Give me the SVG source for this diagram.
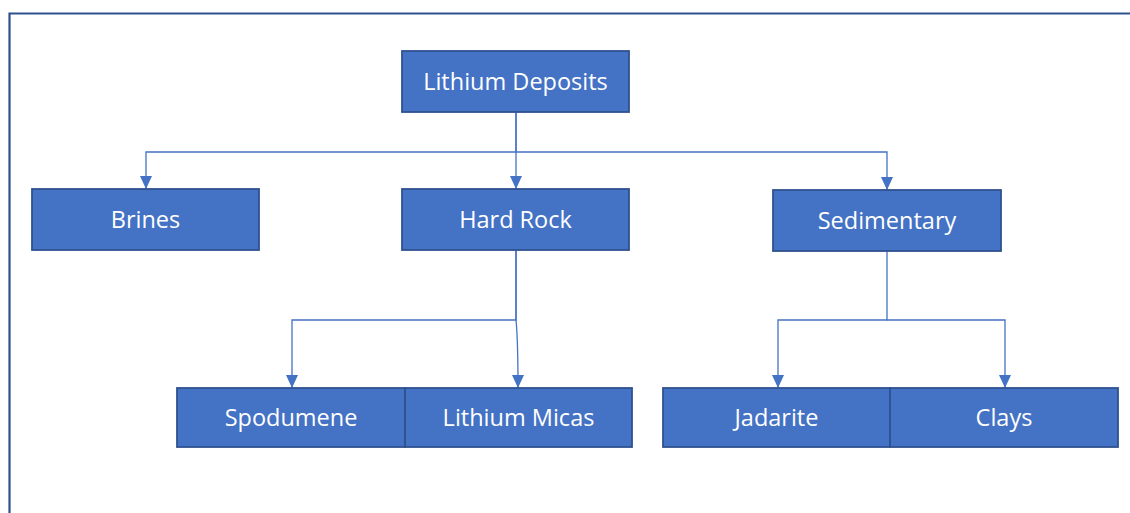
<svg xmlns="http://www.w3.org/2000/svg" width="1130" height="513" viewBox="0 0 1130 513">
<style>
.box{fill:#4472C4;stroke:#2F528F;stroke-width:1.8}
.lbl{fill:#FFFFFF;font-family:"Open Sans","Liberation Sans",sans-serif;font-size:23.5px;text-anchor:middle}
.con{fill:none;stroke:#4472C4;stroke-width:1.3}
</style>
<defs>
<marker id="arr" markerWidth="13" markerHeight="12" refX="13" refY="6" orient="auto" markerUnits="userSpaceOnUse">
<path d="M0,0 L13,6 L0,12 Z" fill="#4472C4"/>
</marker>
</defs>
<rect x="0" y="0" width="1130" height="513" fill="#FFFFFF"/>
<path d="M9.5,513 L9.5,13.5 L1130,13.5" fill="none" stroke="#2F528F" stroke-width="2.2"/>
<g id="connectors">
<path class="con" d="M516,112 L516,152 L146,152 L146,189" marker-end="url(#arr)"/>
<path class="con" d="M516,112 L516,189" marker-end="url(#arr)"/>
<path class="con" d="M516,152 L887,152 L887,190" marker-end="url(#arr)"/>
<path class="con" d="M516,250 L516,320 L292,320 L292,388" marker-end="url(#arr)"/>
<path class="con" d="M516,250 L516,320 Q518,340 518,388" marker-end="url(#arr)"/>
<path class="con" d="M887,251 L887,320 L778,320 L778,388" marker-end="url(#arr)"/>
<path class="con" d="M887,320 L1005,320 L1005,388" marker-end="url(#arr)"/>
</g>
<g id="lithium-deposits"><rect class="box" x="402" y="51" width="227" height="61"/><text class="lbl" x="515.5" y="90">Lithium Deposits</text></g>
<g id="brines"><rect class="box" x="32" y="189" width="227" height="61"/><text class="lbl" x="145.5" y="228">Brines</text></g>
<g id="hard-rock"><rect class="box" x="402" y="189" width="227" height="61"/><text class="lbl" x="515.5" y="228">Hard Rock</text></g>
<g id="sedimentary"><rect class="box" x="773" y="190" width="228" height="61"/><text class="lbl" x="887" y="229">Sedimentary</text></g>
<g id="spodumene"><rect class="box" x="177" y="388" width="228" height="59"/><text class="lbl" x="291" y="426">Spodumene</text></g>
<g id="lithium-micas"><rect class="box" x="405" y="388" width="227" height="59"/><text class="lbl" x="518.5" y="426">Lithium Micas</text></g>
<g id="jadarite"><rect class="box" x="663" y="388" width="227" height="59"/><text class="lbl" x="776.5" y="426">Jadarite</text></g>
<g id="clays"><rect class="box" x="890" y="388" width="228" height="59"/><text class="lbl" x="1004" y="426">Clays</text></g>
</svg>
